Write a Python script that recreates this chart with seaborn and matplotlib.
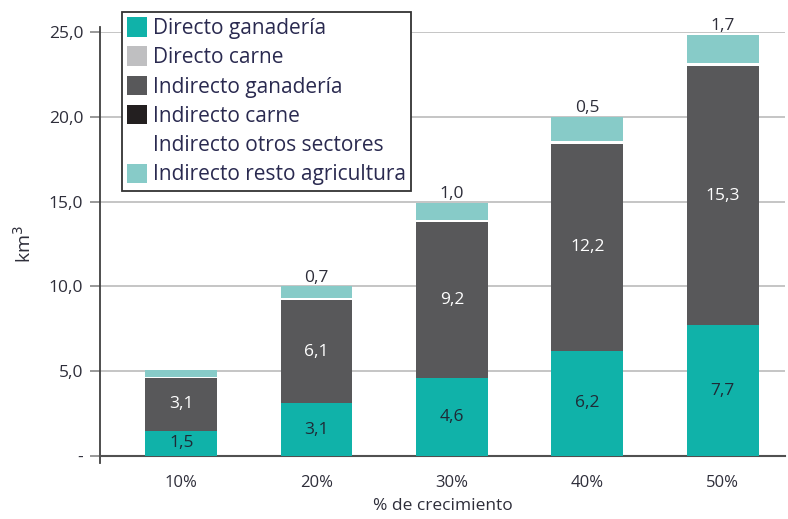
import numpy as np
import pandas as pd
import matplotlib
matplotlib.use('Agg')
import matplotlib.pyplot as plt
import seaborn as sns
from matplotlib.patches import Patch

# Data (km3)
categorias = ['10%', '20%', '30%', '40%', '50%']
directo_ganaderia = [1.5, 3.1, 4.6, 6.2, 7.7]
directo_carne = [0.0, 0.0, 0.0, 0.0, 0.0]
indirecto_ganaderia = [3.1, 6.1, 9.2, 12.2, 15.3]
indirecto_carne = [0.0, 0.0, 0.0, 0.0, 0.0]
indirecto_otros = [0.05, 0.1, 0.1, 0.15, 0.2]
indirecto_resto = [0.45, 0.7, 1.0, 1.45, 1.65]
etiquetas_resto = ['', '0,7', '1,0', '0,5', '1,7']
etiquetas_directo = ['1,5', '3,1', '4,6', '6,2', '7,7']
etiquetas_indirecto = ['3,1', '6,1', '9,2', '12,2', '15,3']

series = [
    ('Directo ganadería', directo_ganaderia, '#10b2a9'),
    ('Directo carne', directo_carne, '#bfbfc1'),
    ('Indirecto ganadería', indirecto_ganaderia, '#58585a'),
    ('Indirecto carne', indirecto_carne, '#231f20'),
    ('Indirecto otros sectores', indirecto_otros, '#ffffff'),
    ('Indirecto resto agricultura', indirecto_resto, '#87cbc8'),
]

sns.set_style('white')
plt.rcParams['font.family'] = ['Open Sans', 'DejaVu Sans']
txt = '#2e2e3a'

fig = plt.figure(figsize=(7.88, 5.19), dpi=100)
ax = fig.add_axes([100 / 788, 1 - 456 / 519, 685 / 788, (456 - 32) / 519])

bottom = np.zeros(len(categorias))
for name, vals, col in series:
    df = pd.DataFrame({'cat': categorias, 'val': vals})
    sns.barplot(data=df, x='cat', y='val', bottom=bottom, color=col,
                width=0.53, edgecolor='none', linewidth=0, ax=ax, zorder=3,
                saturation=1)
    bottom = bottom + np.array(vals)

x = np.arange(len(categorias))
for i in x:
    ax.text(i, directo_ganaderia[i] / 2, etiquetas_directo[i], ha='center',
            va='center', fontsize=12.5, color='#1f2a36', zorder=5)
    ax.text(i, directo_ganaderia[i] + indirecto_ganaderia[i] / 2,
            etiquetas_indirecto[i], ha='center', va='center', fontsize=12.5,
            color='white', zorder=5)
    if etiquetas_resto[i]:
        ax.text(i, bottom[i] + 0.05, etiquetas_resto[i], ha='center',
                va='bottom', fontsize=12.5, color=txt, zorder=5)

ax.set_xlim(-0.6, 4.46)
ax.set_ylim(0, 25)
ax.set_yticks([0, 5, 10, 15, 20, 25])
ax.set_yticklabels(['-', '5,0', '10,0', '15,0', '20,0', '25,0'])
ax.yaxis.grid(True, color='#c0c0c0', linewidth=1.3, zorder=0)
ax.set_axisbelow(True)
for s in ['top', 'right']:
    ax.spines[s].set_visible(False)
ax.spines['left'].set_color('#404040')
ax.spines['left'].set_linewidth(1.3)
ax.spines['left'].set_bounds(-0.4, 25.3)
ax.spines['bottom'].set_color('#505050')
ax.spines['bottom'].set_linewidth(1.5)
ax.tick_params(axis='y', length=7, width=1.3, color='#909090', labelsize=12.5,
               labelcolor=txt, direction='out', left=True, pad=5)
ax.tick_params(axis='x', length=0, labelsize=12, labelcolor=txt, pad=14)
ax.set_xlabel('% de crecimiento', fontsize=12.5, color=txt, labelpad=5)
ax.set_ylabel('km$^3$', fontsize=14, color=txt, labelpad=10)

handles = [Patch(facecolor=c, edgecolor='none', label=n) for n, v, c in series]
leg = fig.legend(handles=handles, loc='upper left',
                 bbox_to_anchor=(122 / 788, 1 - 12 / 519), fontsize=15,
                 frameon=True, fancybox=False, edgecolor='#333333',
                 framealpha=1, borderpad=0.25, labelspacing=0.36,
                 handlelength=0.95, handleheight=1.05, handletextpad=0.3,
                 borderaxespad=0)
leg.get_frame().set_linewidth(1.3)
for t in leg.get_texts():
    t.set_color('#2a2a50')

fig.savefig('out.png', dpi=100)
